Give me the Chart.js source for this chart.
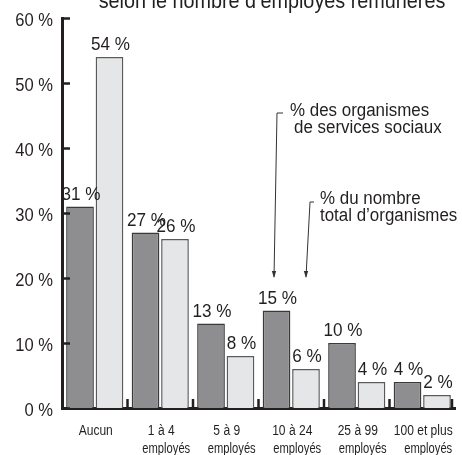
<!DOCTYPE html>
<html lang="fr">
<head>
<meta charset="utf-8">
<title>Organismes selon le nombre d'employés rémunérés</title>
<script src="https://cdn.jsdelivr.net/npm/chart.js@4.4.1/dist/chart.umd.min.js"></script>
<style>
  html, body { margin: 0; padding: 0; background: #ffffff; }
  #wrap { width: 462px; height: 455px; position: relative; }
</style>
</head>
<body>
<div id="wrap"><canvas id="chart"></canvas></div>
<script>
/* ======================================================
   Données
====================================================== */
const categories = [
  ['Aucun'],
  ['1 à 4', 'employés'],
  ['5 à 9', 'employés'],
  ['10 à 24', 'employés'],
  ['25 à 99', 'employés'],
  ['100 et plus', 'employés']
];
const servicesSociaux = [31, 27, 13, 15, 10, 4];
const totalOrganismes = [54, 26, 8, 6, 4, 2];
const yTicks = [0, 10, 20, 30, 40, 50, 60];

const titleText = 'selon le nombre d\u2019employés rémunérés';
const noteServices = ['% des organismes', 'de services sociaux'];
const noteTotal = ['% du nombre', 'total d\u2019organismes'];

/* ======================================================
   Styles
====================================================== */
const FONT = '"Liberation Sans", Arial, sans-serif';
const INK = '#231f20';

/* ======================================================
   Texte condensé (police type Helvetica étroite)
====================================================== */
function narrowText(ctx, text, x, y, size, squeeze, align) {
  ctx.save();
  ctx.font = `${size}px ${FONT}`;
  ctx.fillStyle = INK;
  ctx.textAlign = align;
  ctx.textBaseline = 'alphabetic';
  ctx.translate(x, y);
  ctx.scale(squeeze, 1);
  ctx.fillText(text, 0, 0);
  ctx.restore();
}

function drawArrow(ctx, pts) {
  ctx.strokeStyle = '#333333';
  ctx.lineWidth = 1;
  ctx.beginPath();
  ctx.moveTo(pts[0][0], pts[0][1]);
  for (let i = 1; i < pts.length; i++) ctx.lineTo(pts[i][0], pts[i][1]);
  ctx.stroke();
  const [x, y] = pts[pts.length - 1];
  ctx.fillStyle = '#333333';
  ctx.beginPath();
  ctx.moveTo(x, y + 1);
  ctx.lineTo(x - 2.2, y - 6);
  ctx.lineTo(x + 2.2, y - 6);
  ctx.closePath();
  ctx.fill();
}

/* ======================================================
   Plugin : étiquettes, repères, titre et flèches
====================================================== */
const decorPlugin = {
  id: 'decor',
  afterDatasetsDraw(chart) {
    const { ctx, chartArea, scales } = chart;
    ctx.save();

    // repères et étiquettes de l'axe Y
    ctx.strokeStyle = INK;
    ctx.lineWidth = 2.5;
    yTicks.forEach(v => {
      const y = Math.round(scales.y.getPixelForValue(v)) + 0.5;
      ctx.beginPath();
      ctx.moveTo(chartArea.left, y);
      ctx.lineTo(chartArea.left + 8, y);
      ctx.stroke();
      narrowText(ctx, `${v} %`, chartArea.left - 9, y + 7, 18, 0.92, 'right');
    });

    // repères de l'axe X entre les catégories + étiquettes
    categories.forEach((lines, i) => {
      const x = Math.min(scales.x.getPixelForValue(i + 0.5), chartArea.right - 3);
      ctx.beginPath();
      ctx.moveTo(x, chartArea.bottom);
      ctx.lineTo(x, chartArea.bottom - 9);
      ctx.stroke();

      const cx = scales.x.getPixelForValue(i);
      narrowText(ctx, lines[0], cx + 1, chartArea.bottom + 27, 14, 0.86, 'center');
      if (lines[1]) {
        narrowText(ctx, lines[1], cx + 6, chartArea.bottom + 45, 14, 0.8, 'center');
      }
    });

    // valeurs au-dessus des barres
    chart.data.datasets.forEach((ds, di) => {
      chart.getDatasetMeta(di).data.forEach((bar, i) => {
        narrowText(ctx, `${ds.data[i]} %`, bar.x + 1, bar.y - 7, 19, 0.9, 'center');
      });
    });
    ctx.restore();
  },

  afterDraw(chart) {
    const { ctx } = chart;
    ctx.save();

    // titre (tronqué en haut comme dans la source)
    narrowText(ctx, titleText, 272, 8, 22, 0.9, 'center');

    // notes
    narrowText(ctx, noteServices[0], 290, 116, 18, 0.94, 'left');
    narrowText(ctx, noteServices[1], 294, 133, 18, 0.94, 'left');
    narrowText(ctx, noteTotal[0], 320, 204, 18, 0.94, 'left');
    narrowText(ctx, noteTotal[1], 320, 221, 18, 0.94, 'left');

    // flèches
    drawArrow(ctx, [[283, 113], [277, 113], [274, 277]]);
    drawArrow(ctx, [[314, 202], [310, 202], [306, 277]]);
    ctx.restore();
  }
};

/* ======================================================
   Graphique
====================================================== */
new Chart(document.getElementById('chart'), {
  type: 'bar',
  data: {
    labels: categories,
    datasets: [
      {
        label: noteServices.join(' '),
        data: servicesSociaux,
        backgroundColor: '#8e8e90',
        borderColor: '#3a3a3a',
        borderWidth: 1.5
      },
      {
        label: noteTotal.join(' '),
        data: totalOrganismes,
        backgroundColor: '#e5e6e8',
        borderColor: '#5a5a5a',
        borderWidth: 1.5
      }
    ]
  },
  options: {
    responsive: true,
    maintainAspectRatio: false,
    animation: false,
    layout: { padding: { left: 0, top: 18, right: 7, bottom: 0 } },
    datasets: {
      bar: { categoryPercentage: 0.9, barPercentage: 0.94 }
    },
    plugins: {
      legend: { display: false },
      tooltip: { enabled: false },
      title: { display: false }
    },
    scales: {
      x: {
        grid: { display: false, drawTicks: false },
        border: { display: true, color: INK, width: 3 },
        ticks: { display: false },
        afterFit(scale) { scale.height = 47; }
      },
      y: {
        min: 0,
        max: 60,
        grid: { display: false, drawTicks: false },
        border: { display: true, color: INK, width: 3 },
        ticks: { display: false, stepSize: 10 },
        afterFit(scale) { scale.width = 62; }
      }
    }
  },
  plugins: [decorPlugin]
});
</script>
</body>
</html>
